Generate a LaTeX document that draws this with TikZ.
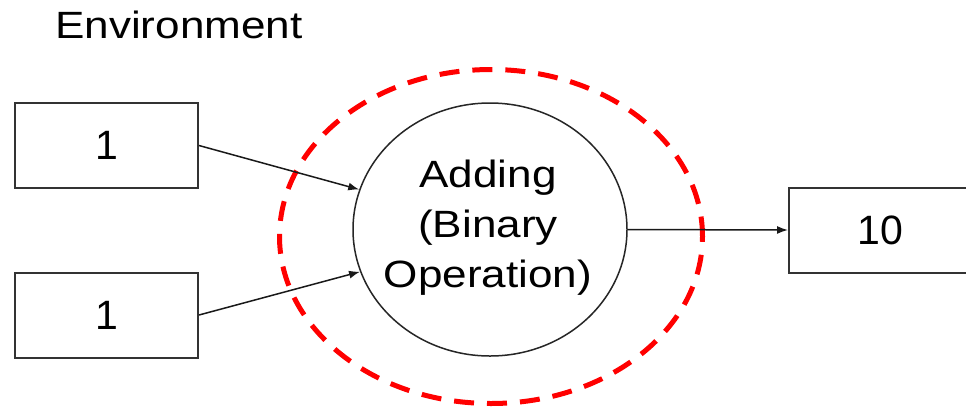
\documentclass[tikz,border=0pt]{standalone}
\usepackage{fontspec}
\setmainfont{Liberation Sans}
\newfontfamily\widefont[FakeStretch=1.16]{Liberation Sans}
\usetikzlibrary{shapes.geometric,arrows.meta}
\tikzset{
  numbox/.style={draw=black!80, line width=2pt, minimum width=183pt, minimum height=85pt, inner sep=0pt,
    font=\fontsize{41}{48}\selectfont, fill=white},
  opnode/.style={ellipse, draw=black!85, line width=1.5pt, inner sep=0pt, minimum width=274pt, minimum height=253pt},
  optext/.style={align=center, inner sep=0pt, font=\widefont\fontsize{38}{50}\selectfont},
  envring/.style={ellipse, draw=red, line width=5pt, dash pattern=on 20pt off 13pt, inner sep=0pt,
    minimum width=423pt, minimum height=334pt},
  flow/.style={draw=black!90, line width=1.5pt, -{Latex[length=11pt,width=8pt]}},
}
\begin{document}
\begin{tikzpicture}[x=1pt,y=-1pt]
  \clip (0,0) rectangle (966,408);
  \useasboundingbox (0,0) rectangle (966,408);
  \fill[white] (0,0) rectangle (966,408);
  \node[anchor=base west, inner sep=0pt, font=\widefont\fontsize{38}{46}\selectfont] (envlabel) at (55,38) {Environment};
  \node[numbox] (in1) at (106.5,145.5) {1};
  \node[numbox] (in2) at (106.5,315) {1};
  \node[numbox] (out) at (880.5,230) {10};
  \node[opnode] (op) at (490,229.5) {};
  \node[optext] (oplabel) at (488,228) {Adding\\(Binary\\Operation)};
  \node[envring] (env) at (491,236.5) {};
  \draw[flow] (in1.east) -- (op.163.5);
  \draw[flow] (in2.east) -- (op.198);
  \draw[flow] (op.east) -- (out.west);
\end{tikzpicture}
\end{document}
